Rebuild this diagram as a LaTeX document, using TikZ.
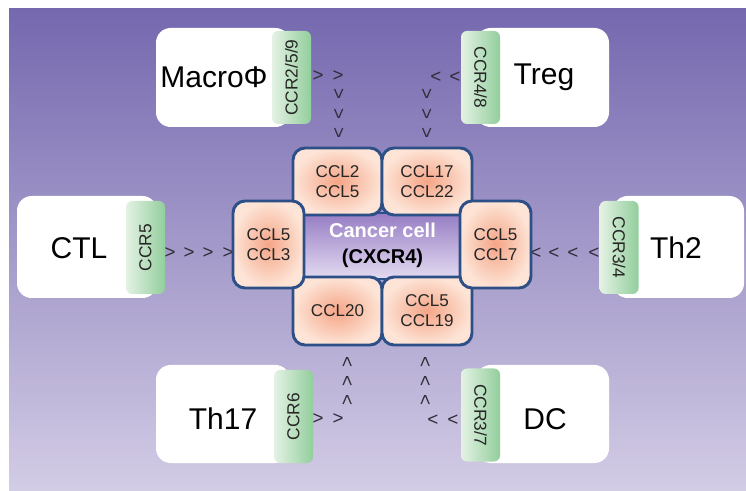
\documentclass[tikz,border=0pt]{standalone}
\usepackage{fontspec}
\setmainfont{Liberation Sans}
\definecolor{fondhaut}{RGB}{117,104,175}
\definecolor{fondbas}{RGB}{211,204,229}
\definecolor{bordbleu}{RGB}{43,79,134}
\definecolor{orangec}{RGB}{245,165,135}
\definecolor{peche}{RGB}{253,228,214}
\definecolor{vertclair}{RGB}{228,242,228}
\definecolor{vertfonce}{RGB}{146,206,156}
\definecolor{violetc}{RGB}{150,125,196}
\definecolor{violetp}{RGB}{228,219,241}
\definecolor{chev}{RGB}{45,45,55}
\begin{document}
\begin{tikzpicture}[x=0.75pt,y=-0.75pt,
    cellule/.style={fill=white,rounded corners=11pt,inner sep=0pt},
    nom/.style={font=\fontsize{22.5}{27}\selectfont,text=black},
    recep/.style={left color=vertclair,right color=vertfonce,rounded corners=4.5pt,
        minimum width=29.25pt,minimum height=69.75pt,inner sep=0pt},
    receptxt/.style={font=\fontsize{13}{15}\selectfont,text=black!85},
    ligand/.style={draw=bordbleu,line width=2.2pt,rounded corners=9pt,inner color=orangec,
        outer color=peche,align=center,inner sep=0pt,text=black!85,
        font=\fontsize{12.8}{15}\selectfont},
    chevron/.style={font=\fontsize{14}{14}\selectfont,text=chev,inner sep=0pt}]
    % Fond
    \useasboundingbox (0,0) rectangle (746,491);
    \fill[white] (0,0) rectangle (746,491);
    \shade[top color=fondhaut,bottom color=fondbas] (9,9) rectangle (746,491);
    % Cellules
    \node[cellule,minimum width=100.5pt,minimum height=74.25pt] (macro) at (223,77.5) {};
    \node[cellule,minimum width=99.75pt,minimum height=74.25pt] (treg) at (542.5,77.5) {};
    \node[cellule,minimum width=105pt,minimum height=76.5pt] (ctl) at (87,247) {};
    \node[cellule,minimum width=98.25pt,minimum height=76.5pt] (th2) at (678.5,247) {};
    \node[cellule,minimum width=100.5pt,minimum height=73.5pt] (th17) at (223,414) {};
    \node[cellule,minimum width=99.75pt,minimum height=73.5pt] (dc) at (542.5,414) {};
    \node[nom] (macrolbl) at (214,77) {MacroΦ};
    \node[nom] (treglbl) at (544,77) {Treg};
    \node[nom] (ctllbl) at (79,248) {CTL};
    \node[nom] (th2lbl) at (676,248) {Th2};
    \node[nom] (th17lbl) at (223,419) {Th17};
    \node[nom] (dclbl) at (545,419) {DC};
    % Recepteurs
    \node[recep] (rmacro) at (291.5,77.5) {};
    \node[recep] (rtreg) at (480.5,77.5) {};
    \node[recep] (rctl) at (145.5,247.5) {};
    \node[recep] (rth2) at (619,247.5) {};
    \node[recep] (rth17) at (293.5,416.5) {};
    \node[recep] (rdc) at (480.5,415) {};
    \node[receptxt,rotate=90] at (rmacro) {CCR2/5/9};
    \node[receptxt,rotate=-90] at (rtreg) {CCR4/8};
    \node[receptxt,rotate=90] at (rctl) {CCR5};
    \node[receptxt,rotate=-90] at (rth2) {CCR3/4};
    \node[receptxt,rotate=90] at (rth17) {CCR6};
    \node[receptxt,rotate=-90] at (rdc) {CCR3/7};
    % Chevrons
    \foreach \x/\y/\r [count=\i] in {318/76/0,338/76/0,338/94/-90,338/114/-90,338/133/-90,
        436/76/180,455/76/180,426/94/-90,426/114/-90,426/133/-90,
        170/253/0,189/253/0,208/253/0,228/253/0,
        536/252/180,554/252/180,573/252/180,594/252/180,
        318/419/0,338/419/0,348/362/90,348/381/90,348/400/90,
        426/362/90,426/381/90,426/400/90,433/419/180,453/419/180}
        \node[chevron,rotate=\r] (chv\i) at (\x,\y) {>};
    % Cellule cancereuse
    \node[draw=bordbleu,line width=2.2pt,top color=violetc,bottom color=violetp,
        minimum width=134.25pt,minimum height=49.5pt] (cancer) at (382.5,246) {};
    \node[ligand,minimum width=66.75pt,minimum height=50.25pt] (hg) at (337.5,181.5) {CCL2\\CCL5};
    \node[ligand,minimum width=67.5pt,minimum height=50.25pt] (hd) at (427,181.5) {CCL17\\CCL22};
    \node[ligand,minimum width=66.75pt,minimum height=51pt] (bg) at (337.5,311) {CCL20};
    \node[ligand,minimum width=67.5pt,minimum height=51pt] (bd) at (427,311) {CCL5\\CCL19};
    \node[ligand,minimum width=53.25pt,minimum height=65.25pt] (g) at (268.5,244.5) {CCL5\\CCL3};
    \node[ligand,minimum width=53.25pt,minimum height=65.25pt] (d) at (495.5,244.5) {CCL5\\CCL7};
    \node[align=center,font=\fontsize{15}{19.5}\selectfont\bfseries] (cancerlbl) at (382.5,245)
        {\textcolor{white}{Cancer cell}\\(CXCR4)};
\end{tikzpicture}
\end{document}
